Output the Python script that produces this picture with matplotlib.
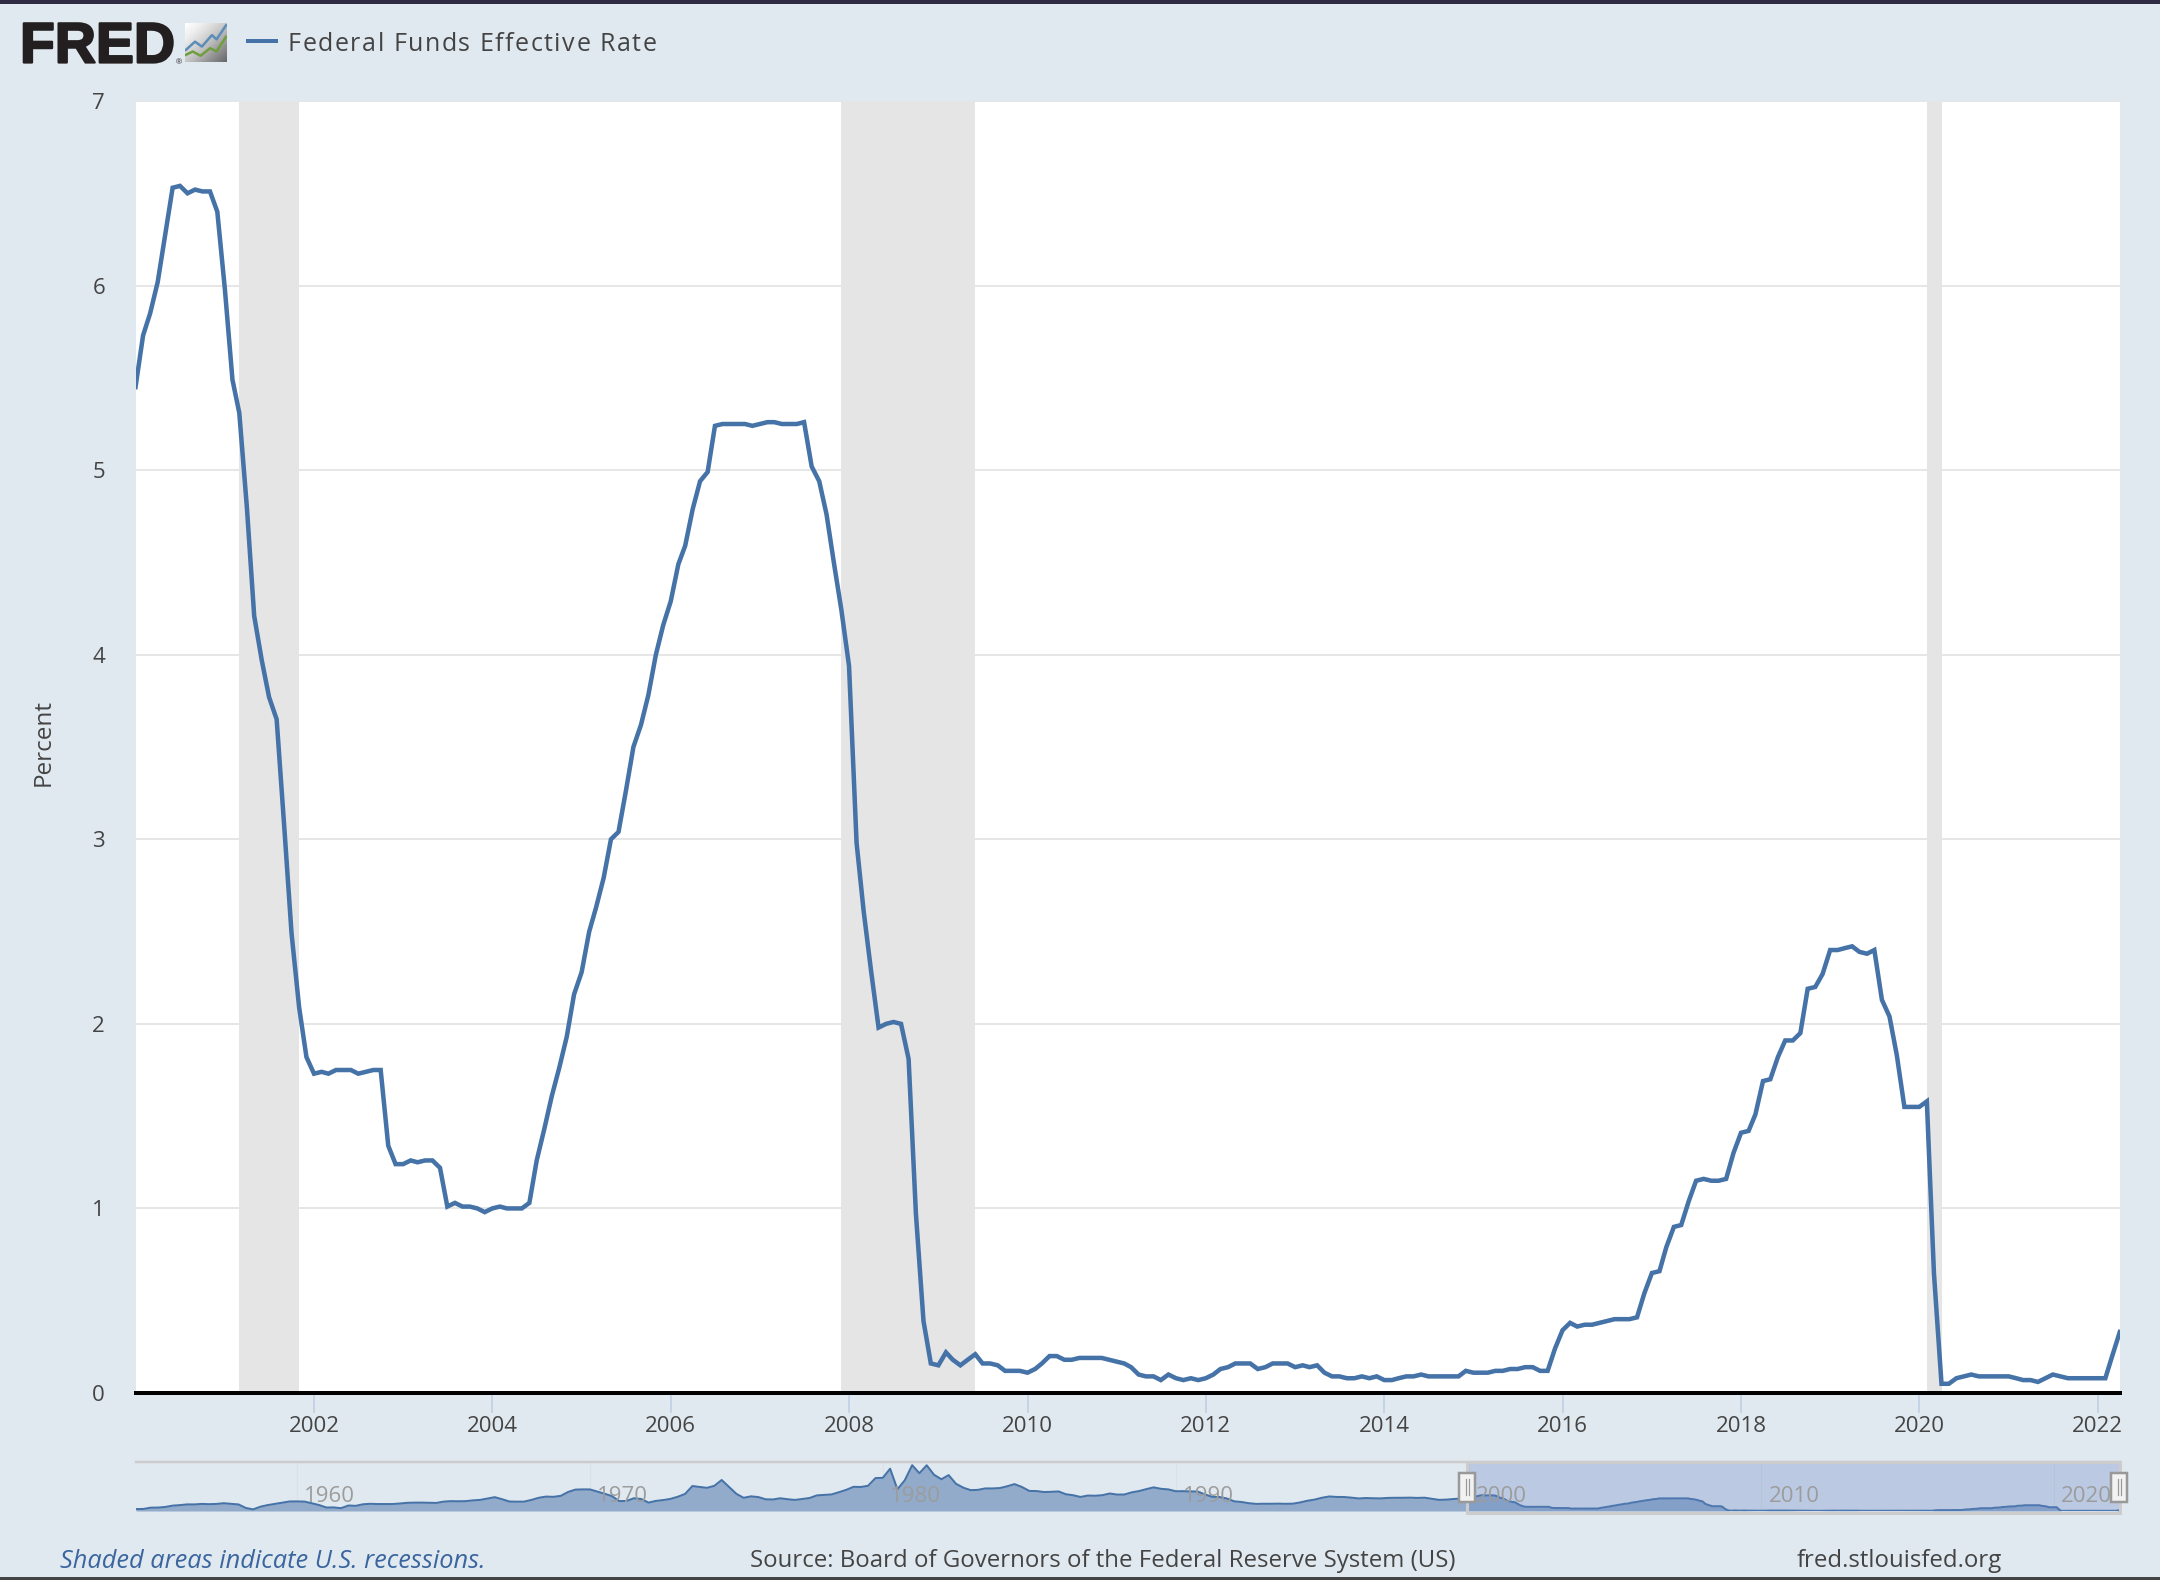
import pandas as pd
import matplotlib
matplotlib.use("Agg")
from matplotlib import pyplot as plt
from matplotlib import patheffects
from matplotlib.patches import Rectangle
import numpy as np

plt.rcParams['font.family'] = ['Open Sans', 'DejaVu Sans']

# monthly rate shown in the main panel, one row per year
rate = [
    5.45, 5.73, 5.85, 6.02, 6.27, 6.53, 6.54, 6.50, 6.52, 6.51, 6.51, 6.40,
    5.98, 5.49, 5.31, 4.80, 4.21, 3.97, 3.77, 3.65, 3.07, 2.49, 2.09, 1.82,
    1.73, 1.74, 1.73, 1.75, 1.75, 1.75, 1.73, 1.74, 1.75, 1.75, 1.34, 1.24,
    1.24, 1.26, 1.25, 1.26, 1.26, 1.22, 1.01, 1.03, 1.01, 1.01, 1.00, 0.98,
    1.00, 1.01, 1.00, 1.00, 1.00, 1.03, 1.26, 1.43, 1.61, 1.76, 1.93, 2.16,
    2.28, 2.50, 2.63, 2.79, 3.00, 3.04, 3.26, 3.50, 3.62, 3.78, 4.00, 4.16,
    4.29, 4.49, 4.59, 4.79, 4.94, 4.99, 5.24, 5.25, 5.25, 5.25, 5.25, 5.24,
    5.25, 5.26, 5.26, 5.25, 5.25, 5.25, 5.26, 5.02, 4.94, 4.76, 4.49, 4.24,
    3.94, 2.98, 2.61, 2.28, 1.98, 2.00, 2.01, 2.00, 1.81, 0.97, 0.39, 0.16,
    0.15, 0.22, 0.18, 0.15, 0.18, 0.21, 0.16, 0.16, 0.15, 0.12, 0.12, 0.12,
    0.11, 0.13, 0.16, 0.20, 0.20, 0.18, 0.18, 0.19, 0.19, 0.19, 0.19, 0.18,
    0.17, 0.16, 0.14, 0.10, 0.09, 0.09, 0.07, 0.10, 0.08, 0.07, 0.08, 0.07,
    0.08, 0.10, 0.13, 0.14, 0.16, 0.16, 0.16, 0.13, 0.14, 0.16, 0.16, 0.16,
    0.14, 0.15, 0.14, 0.15, 0.11, 0.09, 0.09, 0.08, 0.08, 0.09, 0.08, 0.09,
    0.07, 0.07, 0.08, 0.09, 0.09, 0.10, 0.09, 0.09, 0.09, 0.09, 0.09, 0.12,
    0.11, 0.11, 0.11, 0.12, 0.12, 0.13, 0.13, 0.14, 0.14, 0.12, 0.12, 0.24,
    0.34, 0.38, 0.36, 0.37, 0.37, 0.38, 0.39, 0.40, 0.40, 0.40, 0.41, 0.54,
    0.65, 0.66, 0.79, 0.90, 0.91, 1.04, 1.15, 1.16, 1.15, 1.15, 1.16, 1.30,
    1.41, 1.42, 1.51, 1.69, 1.70, 1.82, 1.91, 1.91, 1.95, 2.19, 2.20, 2.27,
    2.40, 2.40, 2.41, 2.42, 2.39, 2.38, 2.40, 2.13, 2.04, 1.83, 1.55, 1.55,
    1.55, 1.58, 0.65, 0.05, 0.05, 0.08, 0.09, 0.10, 0.09, 0.09, 0.09, 0.09,
    0.09, 0.08, 0.07, 0.07, 0.06, 0.08, 0.10, 0.09, 0.08, 0.08, 0.08, 0.08,
    0.08, 0.08, 0.20, 0.33,
]

# quarterly reading of the overview strip before the main panel starts
overview = [
    0.80, 0.85,
    1.39, 1.43, 1.68, 2.24,
    2.45, 2.75, 2.75, 2.95,
    2.84, 2.95, 3.24, 2.96,
    2.72, 1.26, 0.68, 1.80,
    2.48, 2.96, 3.47, 3.98,
    3.99, 3.92, 3.23, 2.47,
    1.45, 1.50, 1.17, 2.29,
    2.15, 2.80, 3.00, 2.90,
    2.90, 2.90, 3.10, 3.40,
    3.48, 3.50, 3.45, 3.36,
    3.90, 4.10, 4.05, 4.10,
    4.42, 4.62, 5.20, 5.76,
    4.90, 3.95, 3.88, 3.90,
    4.61, 5.50, 6.00, 5.90,
    6.30, 7.90, 8.90, 9.00,
    8.98, 8.10, 7.20, 6.20,
    4.14, 4.16, 5.31, 5.00,
    3.50, 4.20, 4.55, 5.05,
    5.94, 7.12, 10.40, 10.00,
    9.65, 10.50, 12.90, 10.00,
    7.13, 5.49, 6.10, 5.80,
    4.87, 4.80, 5.30, 4.90,
    4.61, 5.00, 5.40, 6.50,
    6.70, 6.90, 7.80, 8.80,
    10.07, 10.00, 10.50, 13.70,
    13.82, 17.61, 9.03, 12.81,
    19.08, 15.72, 19.04, 15.08,
    13.22, 14.94, 11.35, 9.71,
    8.68, 8.80, 9.40, 9.40,
    9.56, 10.30, 11.20, 10.00,
    8.35, 8.30, 7.90, 7.99,
    8.14, 6.99, 6.56, 5.85,
    6.43, 6.36, 6.58, 7.29,
    6.83, 6.87, 7.75, 8.30,
    9.12, 9.84, 9.24, 8.99,
    8.23, 8.26, 8.15, 8.11,
    6.91, 5.91, 5.82, 5.21,
    4.03, 3.75, 3.25, 2.95,
    3.02, 3.00, 3.06, 2.99,
    3.05, 3.56, 4.26, 4.76,
    5.53, 6.05, 5.85, 5.83,
    5.56, 5.22, 5.40, 5.30,
    5.25, 5.45, 5.50, 5.50,
    5.56, 5.45, 5.54, 5.07,
    4.63, 4.74, 5.00, 5.20,
]

recessions = [("2001-03-01", "2001-11-01"), ("2007-12-01", "2009-06-01"), ("2020-02-01", "2020-04-01")]
y_ticks = [0, 1, 2, 3, 4, 5, 6, 7]
x_years = [2002, 2004, 2006, 2008, 2010, 2012, 2014, 2016, 2018, 2020, 2022]
overview_years = [1960, 1970, 1980, 1990, 2000, 2010, 2020]

BG = "#e1e9f0"
BLUE = "#4572a7"
TEXT = "#444444"
W, H = 2160, 1580
px = 72 / 100  # one image pixel in points


def add_axes_px(left, top, right, bottom):
    return fig.add_axes([left / W, 1 - bottom / H, (right - left) / W, (bottom - top) / H])


# matplotlib has no letter spacing, so place the legend label one glyph at a time
def spaced_text(axes, x, y, label, spacing, **kwargs):
    renderer = fig.canvas.get_renderer()
    for i, ch in enumerate(label):
        probe = axes.text(0, 0, label[:i] + "|", **kwargs)
        bar = axes.text(0, 0, "|", **kwargs)
        width = probe.get_window_extent(renderer).width - bar.get_window_extent(renderer).width
        probe.remove()
        bar.remove()
        axes.text(x + width + i * spacing, y, ch, va="baseline", ha="left", **kwargs)


fig = plt.figure(figsize=(21.6, 15.8), dpi=100, facecolor=BG)

# main panel
dates = pd.date_range("2000-01-01", periods=len(rate), freq="MS")
ax = add_axes_px(136, 101, 2120, 1393)
ax.set_facecolor("white")
ax.set_xlim(dates[0] + pd.Timedelta(days=2), dates[-1] + pd.Timedelta(days=1))
ax.set_ylim(0, 7)
ax.set_axisbelow(True)
ax.grid(axis="y", color="#e6e6e6", linewidth=2 * px)
for start, end in recessions:
    ax.axvspan(pd.Timestamp(start), pd.Timestamp(end), color="#e5e5e5", linewidth=0, zorder=1.5)
ax.plot(dates, rate, color=BLUE, linewidth=4.5 * px, solid_joinstyle="miter", zorder=3)
for side in ["top", "left", "right"]:
    ax.spines[side].set_visible(False)
ax.spines["bottom"].set_color("black")
ax.spines["bottom"].set_linewidth(4 * px)
ax.spines["bottom"].set_zorder(4)
ax.set_yticks(y_ticks)
ax.set_xticks([pd.Timestamp(year=y, month=1, day=1) for y in x_years])
ax.set_xticklabels([str(y) for y in x_years])
ax.tick_params(axis="y", length=0, pad=31 * px, labelsize=16, labelcolor=TEXT)
ax.tick_params(axis="x", length=20 * px, width=2 * px, color="#c4d3e6", pad=3 * px, labelsize=16, labelcolor=TEXT)
ax.set_ylabel("Percent", fontsize=17.5, color=TEXT)
ax.yaxis.set_label_coords(56 / W, 1 - 742 / H, transform=fig.transFigure)

# overview strip under the panel
nav_dates = pd.date_range("1954-07-01", periods=len(overview), freq="QS-JAN")
nav_x = list(nav_dates) + list(dates)
nav_y = overview + rate
nav = add_axes_px(136, 1462, 2120, 1511)
nav.patch.set_alpha(0)
nav.set_xlim(nav_dates[0], dates[-1])
nav.set_ylim(0, 20.4)
nav.set_xticks([])
nav.set_yticks([])
for side in ["left", "right", "bottom"]:
    nav.spines[side].set_visible(False)
nav.spines["top"].set_color("#cccccc")
nav.spines["top"].set_linewidth(2.5 * px)
for y in overview_years:
    d = pd.Timestamp(year=y, month=1, day=1)
    nav.axvline(d, color="#dbe1e7", linewidth=1.2 * px, zorder=1)
    nav.annotate(str(y), (d, 0), xytext=(7 * px, 14 * px), textcoords="offset points",
                 fontsize=16, color="#9c9c9c", ha="left", va="center", zorder=4)
nav.fill_between(nav_x, nav_y, 0, color="#92abcb", linewidth=0, zorder=2)
nav.plot(nav_x, nav_y, color=BLUE, linewidth=2 * px, zorder=3)
nav.axvspan(pd.Timestamp("2000-01-01"), dates[-1], color="#6685c2", alpha=0.3, linewidth=0, zorder=3.5)

# everything else sits on a pixel overlay
over = fig.add_axes([0, 0, 1, 1], zorder=5)
over.set_xlim(0, W)
over.set_ylim(H, 0)
over.axis("off")
over.add_patch(Rectangle((0, 0), W, 4, color="#2f2b43", linewidth=0))
over.add_patch(Rectangle((0, 1577), W, 3, color="#444444", linewidth=0))
over.add_patch(Rectangle((1467, 1462), 653, 51, fill=False, edgecolor="#cccccc", linewidth=3 * px))
for left in [1459, 2111]:
    over.add_patch(Rectangle((left, 1473), 16, 29, facecolor="#f2f2f2", edgecolor="#999999", linewidth=2.5 * px))
    over.plot([left + 6.5, left + 6.5], [1479, 1495], color="#999999", linewidth=1.2 * px)
    over.plot([left + 9.5, left + 9.5], [1479, 1495], color="#999999", linewidth=1.2 * px)

# logo
over.text(20, 62.5, "FRED", fontsize=41, fontweight="bold", family="Liberation Sans", color="#231f20",
          va="baseline", ha="left",
          path_effects=[patheffects.withStroke(linewidth=1.6, foreground="#231f20")])
over.text(176, 64, "®", fontsize=6, family="Liberation Sans", color="#231f20", va="baseline", ha="left")
icon = add_axes_px(185, 23, 227, 62)
icon.set_zorder(6)
gradient = np.linspace(0, 1, 40)[None, :] + np.linspace(0, 1, 40)[:, None]
icon.imshow(gradient, cmap="Greys", vmin=0, vmax=3, extent=(0, 92, 119, 0), aspect="auto")
icon.plot([2, 22, 37, 59, 69, 90], [82, 57, 72, 37, 50, 7], color="#5b8db8", linewidth=2.5 * px)
icon.plot([2, 17, 34, 55, 69, 90], [97, 87, 100, 77, 87, 42], color="#6f9e3f", linewidth=2.5 * px)
icon.set_xlim(0, 92)
icon.set_ylim(119, 0)
icon.axis("off")

# legend and footer
over.plot([246, 278], [41, 41], color=BLUE, linewidth=4 * px, solid_capstyle="butt")
spaced_text(over, 288, 51, "Federal Funds Effective Rate", 1.5, fontsize=18, color=TEXT)
over.text(60, 1561, "Shaded areas indicate U.S. recessions.", fontsize=18.3, style="italic",
          color="#3a659e", va="center", ha="left")
over.text(750, 1561, "Source: Board of Governors of the Federal Reserve System (US)", fontsize=17.25,
          color=TEXT, va="center", ha="left")
over.text(1797, 1561, "fred.stlouisfed.org", fontsize=17.25, color=TEXT, va="center", ha="left")

fig.savefig("out.png", dpi=100, facecolor=BG)
